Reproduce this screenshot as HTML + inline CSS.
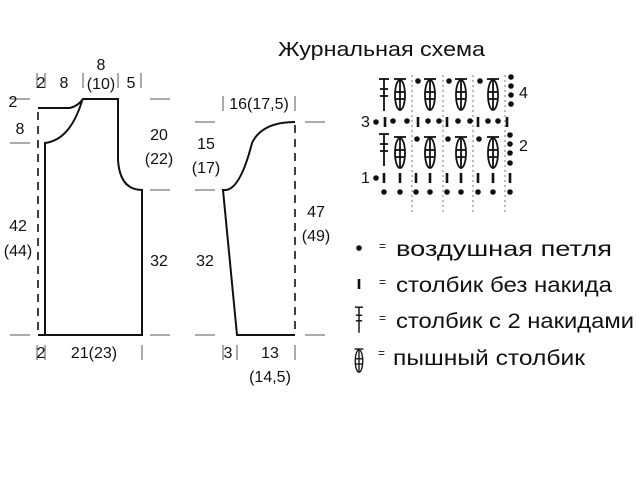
<!DOCTYPE html>
<html><head><meta charset="utf-8"><style>
body{margin:0;background:#fff;width:640px;height:480px;overflow:hidden}
svg{display:block}
text{font-family:"Liberation Sans",sans-serif;fill:#111}
</style></head><body>
<svg width="640" height="480" viewBox="0 0 640 480">
<defs>
<g id="puff" stroke="#111" fill="none" stroke-width="1.8">
<line x1="-6" y1="-16" x2="6" y2="-16"/>
<ellipse cx="0" cy="0" rx="5" ry="15"/>
<line x1="0" y1="-15" x2="0" y2="15"/>
<line x1="-5" y1="-3" x2="5" y2="-3"/>
<line x1="-5" y1="4" x2="5" y2="4"/>
</g>
<g id="tr" stroke="#111" stroke-width="1.8">
<line x1="0" y1="-16" x2="0" y2="16"/>
<line x1="-5" y1="-16" x2="5" y2="-16"/>
<line x1="-4" y1="-6" x2="4" y2="-6"/>
<line x1="-4" y1="1" x2="4" y2="1"/>
</g>
<g id="sc"><rect x="-1.3" y="-5" width="2.6" height="10" fill="#111"/></g>
<g id="ch"><circle r="2.8" fill="#111"/></g>
</defs>

<g stroke="#111" stroke-width="2" fill="none">
<path d="M38,108 L70,108 Q78,106 83,99 L118,99 L118,160 Q120,190 142,190 L142,335 L38,335"/>
<path d="M82,101 Q70,140 45,143 L45,335"/>
<path d="M295,122 Q262,122 252,143 Q240,190 225,190 L223,190 L237,335 L295,335"/>
</g>
<g stroke="#111" stroke-width="1.6" stroke-dasharray="8,6">
<line x1="38" y1="112" x2="38" y2="335"/>
<line x1="295" y1="125" x2="295" y2="335"/>
</g>
<g stroke="#555" stroke-width="1">
<line x1="10" y1="99" x2="30" y2="99"/><line x1="150" y1="99" x2="170" y2="99"/>
<line x1="10" y1="143" x2="30" y2="143"/>
<line x1="195" y1="122" x2="215" y2="122"/><line x1="305" y1="122" x2="325" y2="122"/>
<line x1="150" y1="190" x2="170" y2="190"/><line x1="195" y1="190" x2="215" y2="190"/>
<line x1="10" y1="335" x2="30" y2="335"/><line x1="150" y1="335" x2="170" y2="335"/>
<line x1="195" y1="335" x2="215" y2="335"/><line x1="305" y1="335" x2="325" y2="335"/>
<line x1="37" y1="73" x2="37" y2="88"/><line x1="45" y1="73" x2="45" y2="88"/>
<line x1="83" y1="73" x2="83" y2="88"/><line x1="118" y1="73" x2="118" y2="88"/><line x1="141" y1="73" x2="141" y2="88"/>
<line x1="37" y1="345" x2="37" y2="360"/><line x1="45" y1="345" x2="45" y2="360"/><line x1="142" y1="345" x2="142" y2="360"/>
<line x1="223" y1="96" x2="223" y2="111"/><line x1="295" y1="96" x2="295" y2="111"/>
<line x1="223" y1="345" x2="223" y2="360"/><line x1="237" y1="345" x2="237" y2="360"/><line x1="295" y1="345" x2="295" y2="360"/>
</g>
<g font-size="16" text-anchor="middle">
<text x="41" y="88">2</text><text x="64" y="88">8</text>
<text x="101" y="70">8</text><text x="101" y="89">(10)</text><text x="131" y="88">5</text>
<text x="13" y="107">2</text><text x="20" y="134">8</text>
<text x="159" y="140">20</text><text x="159" y="164">(22)</text>
<text x="18" y="231">42</text><text x="18" y="256">(44)</text>
<text x="159" y="266">32</text>
<text x="41" y="358">2</text><text x="94" y="358">21(23)</text>
<text x="259" y="109">16(17,5)</text>
<text x="206" y="149">15</text><text x="206" y="173">(17)</text>
<text x="205" y="266">32</text>
<text x="316" y="217">47</text><text x="316" y="241">(49)</text>
<text x="228" y="358">3</text><text x="270" y="358">13</text><text x="270" y="382">(14,5)</text>
</g>

<text x="278" y="56" font-size="20" textLength="207" lengthAdjust="spacingAndGlyphs">Журнальная схема</text>

<g stroke="#777" stroke-width="1" stroke-dasharray="2,3">
<line x1="412" y1="75" x2="412" y2="212"/><line x1="443" y1="75" x2="443" y2="212"/>
<line x1="473" y1="75" x2="473" y2="212"/><line x1="505" y1="75" x2="505" y2="212"/>
</g>
<use href="#tr" x="384" y="95"/><use href="#tr" x="384" y="150"/>
<use href="#puff" x="400" y="95"/><use href="#puff" x="430" y="95"/><use href="#puff" x="461" y="95"/><use href="#puff" x="493" y="95"/>
<use href="#puff" x="400" y="153"/><use href="#puff" x="430" y="153"/><use href="#puff" x="461" y="153"/><use href="#puff" x="493" y="153"/>
<use href="#ch" x="418" y="81"/><use href="#ch" x="449" y="81"/><use href="#ch" x="480" y="81"/>
<use href="#ch" x="417" y="139"/><use href="#ch" x="448" y="139"/><use href="#ch" x="479" y="139"/>
<use href="#ch" x="511" y="77"/><use href="#ch" x="511" y="86"/><use href="#ch" x="511" y="95"/><use href="#ch" x="511" y="104"/>
<use href="#ch" x="510" y="135"/><use href="#ch" x="510" y="144"/><use href="#ch" x="510" y="153"/><use href="#ch" x="510" y="163"/>
<use href="#ch" x="376" y="122"/><use href="#sc" x="385" y="122"/><use href="#ch" x="393" y="121"/><use href="#ch" x="407" y="121"/>
<use href="#sc" x="418" y="122"/><use href="#ch" x="428" y="121"/><use href="#ch" x="439" y="121"/>
<use href="#sc" x="447" y="122"/><use href="#ch" x="458" y="121"/><use href="#ch" x="470" y="121"/>
<use href="#sc" x="478" y="122"/><use href="#ch" x="488" y="121"/><use href="#ch" x="498" y="121"/><use href="#sc" x="507" y="122"/>
<use href="#ch" x="376" y="178"/>
<use href="#sc" x="384" y="178"/><use href="#sc" x="400" y="178"/><use href="#sc" x="416" y="178"/><use href="#sc" x="430" y="178"/>
<use href="#sc" x="447" y="178"/><use href="#sc" x="461" y="178"/><use href="#sc" x="478" y="178"/><use href="#sc" x="493" y="178"/><use href="#sc" x="510" y="178"/>
<use href="#ch" x="384" y="192"/><use href="#ch" x="400" y="192"/><use href="#ch" x="416" y="192"/><use href="#ch" x="430" y="192"/>
<use href="#ch" x="447" y="192"/><use href="#ch" x="461" y="192"/><use href="#ch" x="478" y="192"/><use href="#ch" x="493" y="192"/><use href="#ch" x="510" y="192"/>
<g font-size="16"><text x="519" y="98">4</text><text x="519" y="151">2</text><text x="361" y="127">3</text><text x="361" y="183">1</text></g>

<use href="#ch" x="359" y="248"/>
<use href="#sc" x="359" y="284"/>
<use href="#tr" x="359" y="320" transform="translate(359 320) scale(0.8) translate(-359 -320)"/>
<use href="#puff" x="359" y="361" transform="translate(359 361) scale(0.75) translate(-359 -361)"/>
<g font-size="12"><text x="379" y="250">=</text><text x="379" y="286">=</text><text x="379" y="322">=</text><text x="378" y="357">=</text></g>
<g font-size="21">
<text x="396" y="256" textLength="216" lengthAdjust="spacingAndGlyphs">воздушная петля</text>
<text x="396" y="292" textLength="216" lengthAdjust="spacingAndGlyphs">столбик без накида</text>
<text x="396" y="328" textLength="238" lengthAdjust="spacingAndGlyphs">столбик с 2 накидами</text>
<text x="393" y="365" textLength="192" lengthAdjust="spacingAndGlyphs">пышный столбик</text></g>
</svg>
</body></html>
